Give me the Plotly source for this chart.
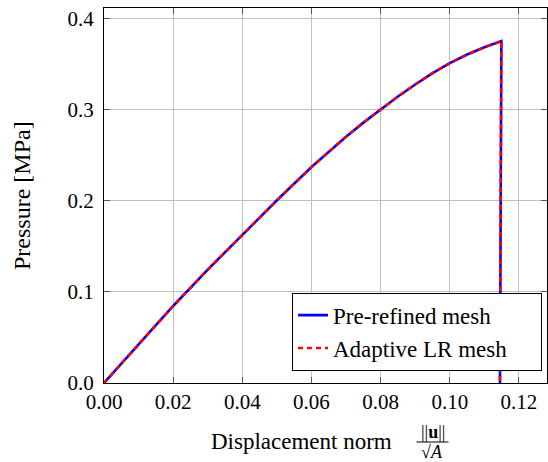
import plotly.graph_objects as go

# ---- data ----
x_pre = [0.0, 0.01, 0.02, 0.03, 0.04, 0.05, 0.06, 0.065, 0.07, 0.075, 0.08, 0.085,
         0.09, 0.095, 0.10, 0.105, 0.11, 0.1125, 0.1149, 0.1145]
y_pre = [0.0, 0.0425, 0.0845, 0.1245, 0.1630, 0.2005, 0.2370, 0.2540, 0.2703, 0.2857, 0.3004, 0.3144,
         0.3276, 0.3400, 0.3510, 0.3605, 0.3685, 0.3720, 0.3752, 0.0]

x_lr = [0.0, 0.01, 0.02, 0.03, 0.04, 0.05, 0.06, 0.065, 0.07, 0.075, 0.08, 0.085,
        0.09, 0.095, 0.10, 0.105, 0.11, 0.1125, 0.1149, 0.1145]
y_lr = [0.0, 0.0425, 0.0845, 0.1245, 0.1630, 0.2005, 0.2370, 0.2540, 0.2703, 0.2857, 0.3004, 0.3144,
        0.3276, 0.3400, 0.3510, 0.3605, 0.3685, 0.3720, 0.3752, 0.0]

series_names = ["Pre-refined mesh", "Adaptive LR mesh"]
x_ticks = [0.00, 0.02, 0.04, 0.06, 0.08, 0.10, 0.12]
y_ticks = [0.0, 0.1, 0.2, 0.3, 0.4]
x_title = "Displacement norm"
y_title = "Pressure [MPa]"

FONT = "Liberation Serif"
W, H = 548, 462
ML, MR, MT, MB = 104, 1, 8, 79
PW, PH = W - ML - MR, H - MT - MB


def px(xp):
    return (xp - ML) / PW


def py(yp):
    return (H - MB - yp) / PH


fig = go.Figure()
fig.add_trace(go.Scatter(x=x_pre, y=y_pre, mode="lines", name=series_names[0],
                         line=dict(color="#0000ff", width=2.6)))
fig.add_trace(go.Scatter(x=x_lr, y=y_lr, mode="lines", name=series_names[1],
                         line=dict(color="#ff0000", width=2.6, dash="5px,4px")))

axis_common = dict(
    showgrid=True, gridcolor="#bfbfbf", gridwidth=1,
    showline=True, linecolor="black", linewidth=1, mirror="allticks",
    ticks="inside", ticklen=6, tickcolor="#555555", tickwidth=1,
    zeroline=False,
    tickfont=dict(family=FONT, size=21, color="black"),
)

fig.update_layout(
    width=W, height=H,
    margin=dict(l=ML, r=MR, t=MT, b=MB, autoexpand=False),
    paper_bgcolor="white", plot_bgcolor="white",
    font=dict(family=FONT, size=21, color="black"),
    xaxis=dict(range=[0, 0.1281], tickvals=x_ticks, tickformat=".2f",
               ticklabelstandoff=0, **axis_common),
    yaxis=dict(range=[0, 0.4115], tickvals=y_ticks, tickformat=".1f",
               ticklabelstandoff=5, **axis_common),
    legend=dict(x=px(542), y=py(370.7), xanchor="right", yanchor="bottom",
                orientation="h",
                bgcolor="white", bordercolor="black", borderwidth=1,
                font=dict(family=FONT, size=23, color="black"),
                entrywidth=203, entrywidthmode="pixels",
                tracegroupgap=0),
    showlegend=True,
)

annotations = [
    dict(text=x_title, x=px(301), y=py(441), xref="paper", yref="paper",
         xanchor="center", yanchor="middle", showarrow=False,
         font=dict(family=FONT, size=23, color="black")),
    dict(text="||<b>u</b>||", x=px(432.5), y=py(432), xref="paper", yref="paper",
         xanchor="center", yanchor="middle", showarrow=False,
         font=dict(family=FONT, size=18, color="black")),
    dict(text="√<i>A</i>", x=px(431.5), y=py(452), xref="paper", yref="paper",
         xanchor="center", yanchor="middle", showarrow=False,
         font=dict(family=FONT, size=18, color="black")),
    dict(text=y_title, x=px(22), y=py(196), xref="paper", yref="paper",
         xanchor="center", yanchor="middle", showarrow=False, textangle=-90,
         font=dict(family=FONT, size=24, color="black")),
]
fig.update_layout(annotations=annotations)
fig.add_shape(type="line", xref="paper", yref="paper",
              x0=px(416.5), x1=px(448.5), y0=py(442), y1=py(442),
              line=dict(color="black", width=1))

fig.write_html("out.html", config={"displayModeBar": False},
               post_script="document.body.style.margin='0';document.body.style.overflow='hidden';")
